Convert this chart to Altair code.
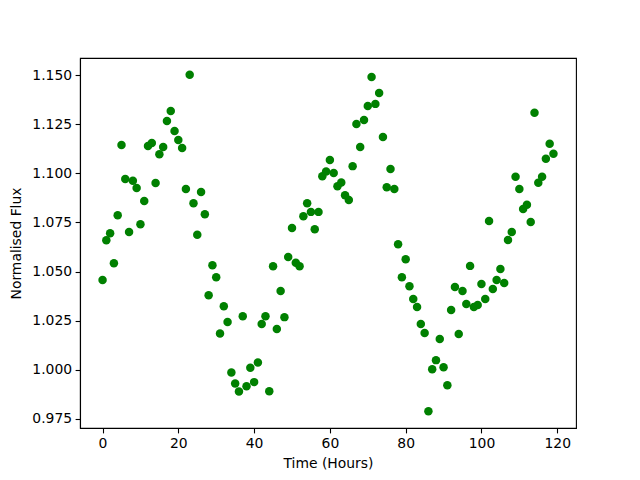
import altair as alt
import pandas as pd

hours = list(range(120))
flux = [
    1.0457, 1.0660, 1.0695, 1.0542, 1.0787, 1.1144, 1.0971, 1.0701, 1.0962, 1.0925,
    1.0741, 1.0859, 1.1139, 1.1155, 1.0951, 1.1098, 1.1134, 1.1267, 1.1318, 1.1216,
    1.1170, 1.1129, 1.0920, 1.1502, 1.0848, 1.0687, 1.0905, 1.0792, 1.0379, 1.0532,
    1.0471, 1.0185, 1.0323, 1.0243, 0.9986, 0.9930, 0.9889, 1.0272, 0.9916, 1.0010,
    0.9937, 1.0037, 1.0233, 1.0272, 0.9891, 1.0527, 1.0207, 1.0401, 1.0268, 1.0574,
    1.0722, 1.0545, 1.0527, 1.0782, 1.0848, 1.0804, 1.0716, 1.0804, 1.0986, 1.1010,
    1.1068, 1.1002, 1.0935, 1.0954, 1.0889, 1.0864, 1.1037, 1.1252, 1.1134, 1.1272,
    1.1343, 1.1491, 1.1354, 1.1410, 1.1185, 1.0930, 1.1022, 1.0920, 1.0639, 1.0471,
    1.0563, 1.0425, 1.0360, 1.0319, 1.0233, 1.0187, 0.9789, 1.0003, 1.0049, 1.0156,
    1.0013, 0.9921, 1.0304, 1.0421, 1.0182, 1.0401, 1.0335, 1.0529, 1.0319, 1.0330,
    1.0437, 1.0360, 1.0758, 1.0411, 1.0457, 1.0513, 1.0442, 1.0661, 1.0702, 1.0983,
    1.0921, 1.0819, 1.0840, 1.0753, 1.1309, 1.0952, 1.0983, 1.1074, 1.1151, 1.1100,
]
x_ticks = [0, 20, 40, 60, 80, 100, 120]
y_ticks = [0.975, 1.000, 1.025, 1.050, 1.075, 1.100, 1.125, 1.150]

df = pd.DataFrame({"t": hours, "f": flux})

xmin, xmax = min(hours), max(hours)
ymin, ymax = min(flux), max(flux)
xm = (xmax - xmin) * 0.05
ym = (ymax - ymin) * 0.05

FONT = "DejaVu Sans"

chart = alt.Chart(df).mark_circle(
    color="#008000", opacity=1, size=72
).encode(
    x=alt.X("t:Q",
            scale=alt.Scale(domain=[xmin - xm, xmax + xm], nice=False, zero=False),
            axis=alt.Axis(values=x_ticks, title="Time (Hours)", format="d")),
    y=alt.Y("f:Q",
            scale=alt.Scale(domain=[ymin - ym, ymax + ym], nice=False, zero=False),
            axis=alt.Axis(values=y_ticks, title="Normalised Flux", format=".3f")),
).properties(
    width=496, height=370,
    autosize=alt.AutoSizeParams(type="none"),
    padding={"left": 72, "top": 50, "right": 56, "bottom": 45},
).configure_view(
    stroke="black", strokeWidth=1.1
).configure_axis(
    grid=False,
    domainColor="black", domainWidth=1.1,
    tickColor="black", tickWidth=1.1, tickSize=4.9,
    labelFont=FONT, labelFontSize=13.9, labelColor="black", labelPadding=3.5,
    titleFont=FONT, titleFontSize=13.9, titleFontWeight="normal", titleColor="black",
).configure_axisX(
    titlePadding=6,
).configure_axisY(
    titlePadding=8,
)

chart.save("out.html", embed_options={"renderer": "svg", "actions": False})
